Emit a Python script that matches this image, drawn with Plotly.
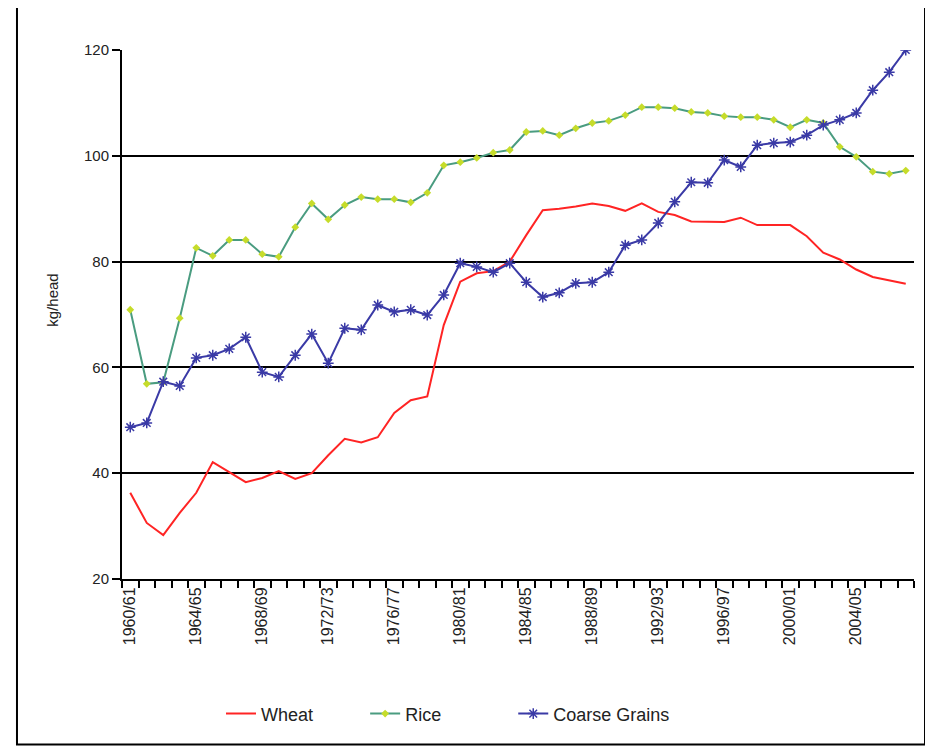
import plotly.graph_objects as go

categories = [
    "1960/61", "1961/62", "1962/63", "1963/64", "1964/65", "1965/66", "1966/67", "1967/68",
    "1968/69", "1969/70", "1970/71", "1971/72", "1972/73", "1973/74", "1974/75", "1975/76",
    "1976/77", "1977/78", "1978/79", "1979/80", "1980/81", "1981/82", "1982/83", "1983/84",
    "1984/85", "1985/86", "1986/87", "1987/88", "1988/89", "1989/90", "1990/91", "1991/92",
    "1992/93", "1993/94", "1994/95", "1995/96", "1996/97", "1997/98", "1998/99", "1999/00",
    "2000/01", "2001/02", "2002/03", "2003/04", "2004/05", "2005/06", "2006/07", "2007/08",
]

wheat = [
    36.3, 30.6, 28.3, 32.5, 36.3, 42.1, 40.2, 38.3, 39.1, 40.4, 38.9, 40.0,
    43.4, 46.5, 45.8, 46.8, 51.4, 53.8, 54.5, 68.0, 76.2, 77.8, 78.2, 80.0,
    85.0, 89.7, 90.0, 90.4, 91.0, 90.5, 89.6, 91.0, 89.4, 88.8, 87.6, 87.5,
    87.5, 88.3, 86.9, 86.9, 86.9, 84.8, 81.7, 80.4, 78.5, 77.1, 76.5, 75.8,
]

rice = [
    70.9, 56.9, 57.2, 69.3, 82.6, 81.1, 84.1, 84.1, 81.4, 80.9, 86.5, 91.0,
    88.0, 90.7, 92.2, 91.8, 91.8, 91.2, 93.0, 98.2, 98.8, 99.6, 100.6, 101.1,
    104.5, 104.7, 103.9, 105.2, 106.2, 106.6, 107.7, 109.2, 109.2, 109.0, 108.3, 108.1,
    107.5, 107.3, 107.3, 106.8, 105.4, 106.8, 106.2, 101.7, 99.8, 97.0, 96.6, 97.2,
]

coarse_grains = [
    48.7, 49.5, 57.3, 56.5, 61.8, 62.3, 63.5, 65.7, 59.1, 58.2, 62.3, 66.3,
    60.8, 67.4, 67.1, 71.8, 70.5, 70.9, 69.9, 73.7, 79.7, 79.0, 78.0, 79.7,
    76.1, 73.3, 74.1, 75.9, 76.1, 78.0, 83.1, 84.1, 87.3, 91.3, 95.0, 94.9,
    99.2, 97.9, 102.0, 102.4, 102.6, 103.9, 105.8, 106.8, 108.1, 112.4, 115.8, 120.0,
]

labelled_ticks = [
    "1960/61", "1964/65", "1968/69", "1972/73", "1976/77", "1980/81",
    "1984/85", "1988/89", "1992/93", "1996/97", "2000/01", "2004/05",
]
y_ticks = [20, 40, 60, 80, 100, 120]

FONT = "Liberation Sans, Arial, sans-serif"

fig = go.Figure()
fig.add_trace(go.Scatter(
    x=categories, y=wheat, name="Wheat", mode="lines",
    line=dict(color="#ff2424", width=2), legend="legend",
))
fig.add_trace(go.Scatter(
    x=categories, y=rice, name="Rice", mode="lines+markers",
    line=dict(color="#4a9c80", width=2),
    marker=dict(symbol="diamond", size=6, color="#c6dc2a", line=dict(width=0)),
    legend="legend2",
))
fig.add_trace(go.Scatter(
    x=categories, y=coarse_grains, name="Coarse Grains", mode="lines+markers",
    line=dict(color="#3a3aa6", width=2),
    marker=dict(symbol="asterisk-open", size=9, color="#3a3aa6", line=dict(width=1.5, color="#3a3aa6")),
    legend="legend3",
))

tick_text = [c if c in labelled_ticks else "" for c in categories]

fig.update_xaxes(
    type="category",
    categoryorder="array", categoryarray=categories,
    range=[-0.5, len(categories) - 0.5],
    tickmode="array", tickvals=categories, ticktext=tick_text,
    tickson="boundaries",
    ticks="outside", ticklen=7, tickwidth=2, tickcolor="black",
    tickangle=-90,
    tickfont=dict(family=FONT, size=16, color="#222"),
    showline=True, linecolor="black", linewidth=2,
    showgrid=False, zeroline=False,
)
fig.update_yaxes(
    range=[20, 120], tickmode="array", tickvals=y_ticks,
    ticks="outside", ticklen=8, tickwidth=2, tickcolor="black",
    tickfont=dict(family=FONT, size=15, color="#222"),
    showline=True, linecolor="black", linewidth=2,
    showgrid=True, gridcolor="black", gridwidth=2,
    zeroline=False,
)

fig.add_annotation(
    text="kg/head", textangle=-90, showarrow=False,
    xref="paper", yref="paper", x=-0.101, y=0.527,
    font=dict(family=FONT, size=15, color="#222"),
)

fig.add_shape(
    type="rect", xref="paper", yref="paper",
    x0=-0.1326, x1=1.0139, y0=-0.313, y1=1.083,
    line=dict(color="black", width=2), fillcolor="rgba(0,0,0,0)",
)

legend_common = dict(
    orientation="h", xanchor="left", y=-0.255, yanchor="middle",
    font=dict(family=FONT, size=18, color="#222"),
    bgcolor="rgba(0,0,0,0)",
)

# page body has an 8px margin, so the figure is offset by 8px
fig.update_layout(
    width=925, height=741,
    margin=dict(l=114, r=19, t=42, b=170),
    paper_bgcolor="white", plot_bgcolor="white",
    showlegend=True,
    legend=dict(x=0.125, **legend_common),
    legend2=dict(x=0.307, **legend_common),
    legend3=dict(x=0.494, **legend_common),
)

fig.write_html("out.html")
